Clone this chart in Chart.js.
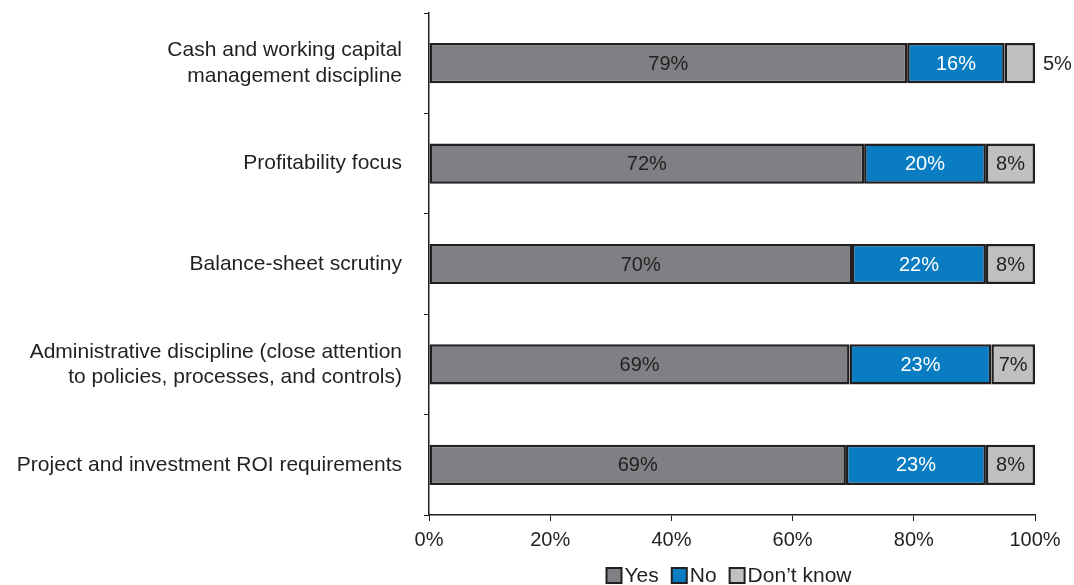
<!DOCTYPE html>
<html>
<head>
<meta charset="utf-8">
<script src="https://cdn.jsdelivr.net/npm/chart.js@4"></script>
<style>
  html, body { margin: 0; padding: 0; background: #fff; }
  #wrap { width: 1074px; height: 585px; }
</style>
</head>
<body>
<div id="wrap"><canvas id="myChart" width="1074" height="585"></canvas></div>
<script>
// categories (top to bottom)
var categories = [
  ['Cash and working capital', 'management discipline'],
  'Profitability focus',
  'Balance-sheet scrutiny',
  ['Administrative discipline (close attention', 'to policies, processes, and controls)'],
  'Project and investment ROI requirements'
];
// series values in percent
var yesValues = [78.9, 71.8, 69.8, 69.4, 68.8];
var noValues = [16.1, 20.1, 22.1, 23.4, 23.1];
var dkValues = [5.0, 8.1, 8.1, 7.2, 8.1];
var seriesNames = ['Yes', 'No', 'Don\u2019t know'];
var xTicks = [0, 20, 40, 60, 80, 100];

var ink = '#231f20';
var fontFam = '"Liberation Sans", Arial, sans-serif';
var colors = ['#808084', '#0a7cc2', '#c0c0c3'];
var labelColors = [ink, '#ffffff', ink];

// draws the percent inside each segment (outside to the right if it does not fit)
var valueLabels = {
  id: 'valueLabels',
  afterDatasetsDraw: function(chart) {
    var c = chart.ctx;
    c.save();
    c.font = '20px ' + fontFam;
    c.textBaseline = 'middle';
    chart.data.datasets.forEach(function(ds, di) {
      var meta = chart.getDatasetMeta(di);
      meta.data.forEach(function(bar, i) {
        var txt = Math.round(ds.data[i]) + '%';
        var w = c.measureText(txt).width;
        var segW = Math.abs(bar.x - bar.base);
        if (segW < w + 6) {
          c.fillStyle = ink;
          c.textAlign = 'left';
          c.fillText(txt, bar.x + 8, bar.y + 1);
        } else {
          c.fillStyle = labelColors[di];
          c.textAlign = 'center';
          c.fillText(txt, (bar.x + bar.base) / 2, bar.y + 1);
        }
      });
    });
    c.restore();
  }
};

// legend at the bottom, boxes with dark outline
var bottomLegend = {
  id: 'bottomLegend',
  afterDraw: function(chart) {
    var c = chart.ctx;
    c.save();
    c.font = '21px ' + fontFam;
    c.textBaseline = 'middle';
    c.textAlign = 'left';
    var box = 15, gap = 3, itemGap = 13;
    var total = 0;
    seriesNames.forEach(function(n) { total += box + gap + c.measureText(n).width; });
    total += itemGap * (seriesNames.length - 1);
    var x = 729 - total / 2;
    var y = 575.5;
    seriesNames.forEach(function(n, i) {
      c.fillStyle = colors[i];
      c.fillRect(x, y - box / 2, box, box);
      c.lineWidth = 2;
      c.strokeStyle = ink;
      c.strokeRect(x, y - box / 2, box, box);
      x += box + gap;
      c.fillStyle = ink;
      c.fillText(n, x, y + 1);
      x += c.measureText(n).width + itemGap;
    });
    c.restore();
  }
};

var ctx = document.getElementById('myChart').getContext('2d');

var chart = new Chart(ctx, {
  type: 'bar',
  data: {
    labels: categories,
    datasets: [yesValues, noValues, dkValues].map(function(vals, i) {
      return {
        label: seriesNames[i],
        data: vals,
        backgroundColor: colors[i],
        borderColor: ink,
        borderWidth: 2.5,
        borderSkipped: false,
        barPercentage: 0.4,
        categoryPercentage: 1
      };
    })
  },
  options: {
    indexAxis: 'y',
    responsive: false,
    animation: false,
    layout: { padding: { top: 13, right: 39, left: 0, bottom: 0 } },
    plugins: {
      legend: { display: false },
      tooltip: { enabled: false }
    },
    scales: {
      x: {
        stacked: true,
        min: 0,
        max: 100,
        afterBuildTicks: function(axis) {
          axis.ticks = xTicks.map(function(v) { return { value: v }; });
        },
        afterFit: function(axis) {
          axis.height = 70;
          axis.paddingRight = 0;
          axis.paddingLeft = 0;
        },
        border: { color: ink, width: 1.5 },
        grid: { drawOnChartArea: false, tickLength: 6, color: ink, lineWidth: 1 },
        ticks: {
          color: ink,
          padding: 7,
          maxRotation: 0,
          font: { family: fontFam, size: 20 },
          callback: function(v) { return v + '%'; }
        }
      },
      y: {
        stacked: true,
        afterFit: function(axis) {
          axis.width = 429;
          axis.paddingTop = 0;
          axis.paddingBottom = 0;
        },
        border: { color: ink, width: 1.5 },
        grid: { drawOnChartArea: false, tickLength: 5, color: ink, lineWidth: 1, offset: true },
        ticks: {
          color: ink,
          padding: 22,
          font: { family: fontFam, size: 21, lineHeight: 1.2 }
        }
      }
    }
  },
  plugins: [valueLabels, bottomLegend]
});
</script>
</body>
</html>
